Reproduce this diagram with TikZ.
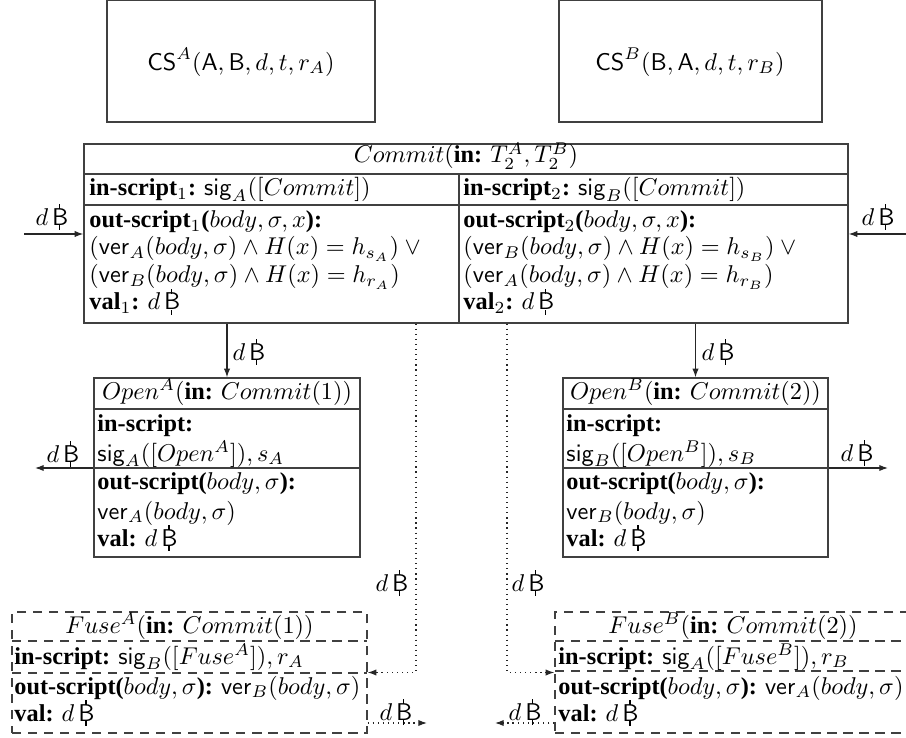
\documentclass[tikz,border=0pt]{standalone}
\usepackage[no-math]{fontspec}
\setmainfont{Liberation Serif}
\usetikzlibrary{fit,arrows.meta}
\newcommand{\btcsym}{\mbox{\normalfont\sffamily B\kern-0.40em\rule[-0.42ex]{0.07em}{0.46ex}\kern-0.07em\rule[1.50ex]{0.07em}{0.48ex}\kern0.33em}}
\newcommand{\dB}{$d\,\btcsym$}
\begin{document}
\begin{tikzpicture}[x=0.412pt,y=-0.412pt,
  box/.style={draw=black!75, line width=0.5pt, inner sep=0pt},
  dbox/.style={draw=black!75, line width=0.5pt, inner sep=0pt, dash pattern=on 3.8pt off 2.8pt},
  sep/.style={draw=black!75, line width=0.5pt},
  dsep/.style={draw=black!75, line width=0.5pt, dash pattern=on 3.8pt off 2.8pt},
  txt/.style={inner sep=0pt, anchor=base west},
  ctxt/.style={inner sep=0pt, anchor=base},
  lab/.style={inner sep=0pt, anchor=center},
  arr/.style={-{Latex[length=3.6pt,width=2.6pt]}, line width=0.5pt, black!85},
  darr/.style={arr, dash pattern=on 0.5pt off 1.6pt}]
\useasboundingbox (0,0) rectangle (906,738);

% ---- CS boxes
\coordinate (csa1) at (107,0.5); \coordinate (csa2) at (375,122);
\node[box, fit=(csa1)(csa2)] (csA) {};
\node[lab] (csAt) at (241,62) {$\mathsf{CS}^A(\mathsf{A},\mathsf{B},d,t,r_A)$};
\coordinate (csb1) at (559,0.5); \coordinate (csb2) at (822,122);
\node[box, fit=(csb1)(csb2)] (csB) {};
\node[lab] (csBt) at (690,62) {$\mathsf{CS}^B(\mathsf{B},\mathsf{A},d,t,r_B)$};

% ---- Commit
\coordinate (cm1) at (84,144); \coordinate (cm2) at (848,323);
\node[box, fit=(cm1)(cm2)] (commit) {};
\draw[sep] (84,174) -- (848,174);
\draw[sep] (84,205) -- (848,205);
\draw[sep] (459,174) -- (459,323);
\node[ctxt] (cmT) at (466,163) {$Commit($\textbf{in:} $T_2^A,T_2^B)$};
\node[txt] (cmL1) at (89,196) {\textbf{in-script}$_1$\textbf{:} $\mathsf{sig}_A([Commit])$};
\node[txt] (cmL2) at (89,228) {\textbf{out-script}$_1$\textbf{(}$body,\sigma,x$\textbf{):}};
\node[txt] (cmL3) at (89,255) {$(\mathsf{ver}_A(body,\sigma)\land H(x)=h_{s_A})\lor{}$};
\node[txt] (cmL4) at (89,283) {$(\mathsf{ver}_B(body,\sigma)\land H(x)=h_{r_A})$};
\node[txt] (cmL5) at (89,310) {\textbf{val}$_1$\textbf{:} \dB};
\node[txt] (cmR1) at (463,196) {\textbf{in-script}$_2$\textbf{:} $\mathsf{sig}_B([Commit])$};
\node[txt] (cmR2) at (463,228) {\textbf{out-script}$_2$\textbf{(}$body,\sigma,x$\textbf{):}};
\node[txt] (cmR3) at (463,255) {$(\mathsf{ver}_B(body,\sigma)\land H(x)=h_{s_B})\lor{}$};
\node[txt] (cmR4) at (463,283) {$(\mathsf{ver}_A(body,\sigma)\land H(x)=h_{r_B})$};
\node[txt] (cmR5) at (463,310) {\textbf{val}$_2$\textbf{:} \dB};

% inputs to commit
\coordinate (inA) at (24,234);
\draw[arr] (inA) -- (inA -| commit.west);
\node[lab] (inAl) at (52,217) {\dB};
\coordinate (inB) at (906,234);
\draw[arr] (inB) -- (inB -| commit.east);
\node[lab] (inBl) at (878,217) {\dB};

% ---- Open^A
\coordinate (oa1) at (94,378); \coordinate (oa2) at (360,557);
\node[box, fit=(oa1)(oa2)] (openA) {};
\draw[sep] (94,409) -- (360,409);
\draw[sep] (94,468) -- (360,468);
\node[ctxt] (oaT) at (227,399) {$Open^A($\textbf{in:} $Commit(1))$};
\node[txt] (oa1t) at (97,432) {\textbf{in-script:}};
\node[txt] (oa2t) at (97,461) {$\mathsf{sig}_A([Open^A]),s_A$};
\node[txt] (oa3t) at (97,489) {\textbf{out-script(}$body,\sigma$\textbf{):}};
\node[txt] (oa4t) at (97,519) {$\mathsf{ver}_A(body,\sigma)$};
\node[txt] (oa5t) at (97,546) {\textbf{val:} \dB};

% ---- Open^B
\coordinate (ob1) at (563,378); \coordinate (ob2) at (828,557);
\node[box, fit=(ob1)(ob2)] (openB) {};
\draw[sep] (563,409) -- (828,409);
\draw[sep] (563,468) -- (828,468);
\node[ctxt] (obT) at (695.5,399) {$Open^B($\textbf{in:} $Commit(2))$};
\node[txt] (ob1t) at (566,432) {\textbf{in-script:}};
\node[txt] (ob2t) at (566,461) {$\mathsf{sig}_B([Open^B]),s_B$};
\node[txt] (ob3t) at (566,489) {\textbf{out-script(}$body,\sigma$\textbf{):}};
\node[txt] (ob4t) at (566,519) {$\mathsf{ver}_B(body,\sigma)$};
\node[txt] (ob5t) at (566,546) {\textbf{val:} \dB};

% commit -> open
\draw[arr] (commit.south -| openA.north) -- (openA.north);
\node[lab] (caL) at (249,352) {\dB};
\draw[arr] (commit.south -| openB.north) -- (openB.north);
\node[lab] (cbL) at (718,352) {\dB};

% open outputs
\coordinate (oAo) at (35,468);
\draw[arr] (openA.west |- oAo) -- (oAo);
\node[lab] (oAl) at (63,454) {\dB};
\coordinate (oBo) at (888,468);
\draw[arr] (openB.east |- oBo) -- (oBo);
\node[lab] (oBl) at (857,453) {\dB};

% ---- Fuse^A
\coordinate (fa1) at (12,612); \coordinate (fa2) at (367,733);
\node[dbox, fit=(fa1)(fa2)] (fuseA) {};
\draw[dsep] (12,641) -- (367,641);
\draw[dsep] (12,673) -- (367,673);
\node[ctxt] (faT) at (189.5,633) {$Fuse^A($\textbf{in:} $Commit(1))$};
\node[txt] (fa1t) at (14,664) {\textbf{in-script:} $\mathsf{sig}_B([Fuse^A]),r_A$};
\node[txt] (fa2t) at (14,694) {\textbf{out-script(}$body,\sigma$\textbf{):} $\mathsf{ver}_B(body,\sigma)$};
\node[txt] (fa3t) at (14,721) {\textbf{val:} \dB};

% ---- Fuse^B
\coordinate (fb1) at (555,612); \coordinate (fb2) at (912,733);
\node[dbox, fit=(fb1)(fb2)] (fuseB) {};
\draw[dsep] (555,641) -- (912,641);
\draw[dsep] (555,671) -- (912,671);
\node[ctxt] (fbT) at (733,633) {$Fuse^B($\textbf{in:} $Commit(2))$};
\node[txt] (fb1t) at (558,664) {\textbf{in-script:} $\mathsf{sig}_A([Fuse^B]),r_B$};
\node[txt] (fb2t) at (558,694) {\textbf{out-script(}$body,\sigma$\textbf{):} $\mathsf{ver}_A(body,\sigma)$};
\node[txt] (fb3t) at (558,721) {\textbf{val:} \dB};

% dotted commit -> fuse
\coordinate (dA) at (416,323);
\draw[darr] (commit.south -| dA) |- (fuseA.east);
\node[lab] (dAl) at (392,583) {\dB};
\coordinate (dBc) at (507,323);
\draw[darr] (commit.south -| dBc) |- (fuseB.west);
\node[lab] (dBl) at (528,583) {\dB};

% fuse outputs
\coordinate (fAo) at (427,723);
\draw[darr] (fuseA.east |- fAo) -- (fAo);
\node[lab] (fAl) at (396,712) {\dB};
\coordinate (fBo) at (495,723);
\draw[darr] (fuseB.west |- fBo) -- (fBo);
\node[lab] (fBl) at (525,712) {\dB};
\end{tikzpicture}
\end{document}
